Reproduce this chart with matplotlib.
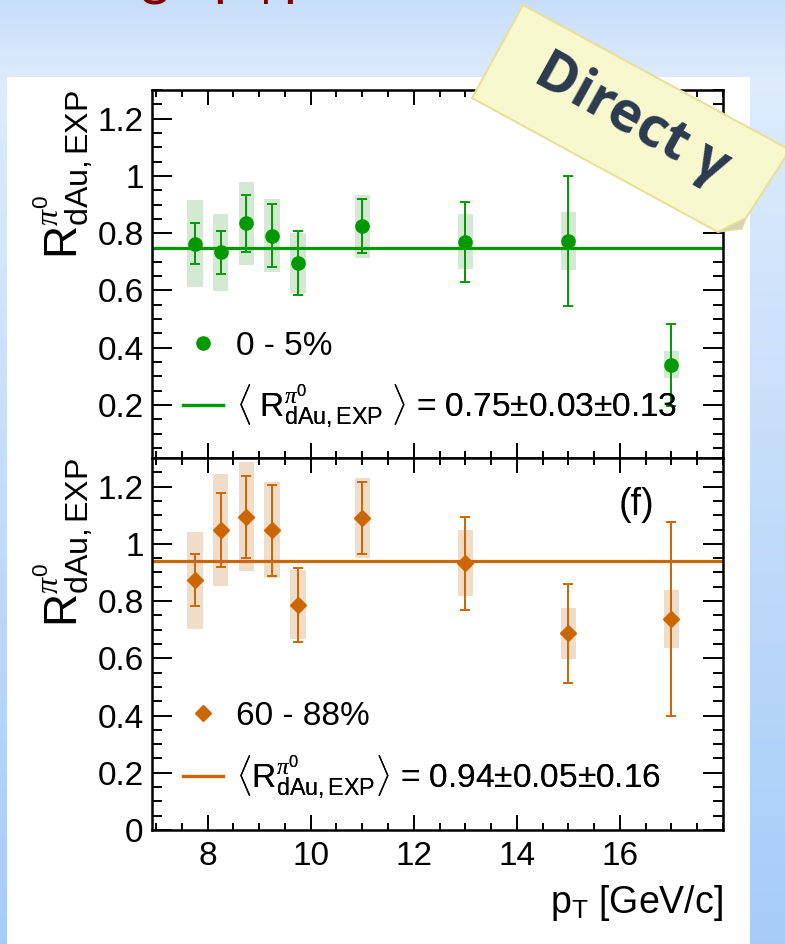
import matplotlib
matplotlib.use("Agg")
import matplotlib.pyplot as plt
import numpy as np
from matplotlib.lines import Line2D
from matplotlib.patches import Polygon, Rectangle
from matplotlib.ticker import FixedLocator, MultipleLocator, FuncFormatter

plt.rcParams["font.family"] = ["Liberation Sans", "DejaVu Sans"]
plt.rcParams["mathtext.fontset"] = "custom"
plt.rcParams["mathtext.rm"] = "Liberation Sans"
plt.rcParams["mathtext.it"] = "Liberation Serif:italic"
plt.rcParams["mathtext.bf"] = "Liberation Sans:bold"

W, H = 785, 944

pt = [7.75, 8.25, 8.75, 9.25, 9.75, 11.0, 13.0, 15.0, 17.0]
pt_ticks = [8, 10, 12, 14, 16]

# 0-5% centrality
r_central = [0.764, 0.733, 0.834, 0.791, 0.696, 0.825, 0.770, 0.773, 0.340]
stat_central = [0.073, 0.074, 0.098, 0.110, 0.112, 0.094, 0.140, 0.226, 0.143]
sys_central = [0.153, 0.135, 0.145, 0.128, 0.105, 0.110, 0.096, 0.100, 0.047]
mean_central = 0.75

# 60-88% centrality
r_periph = [0.873, 1.048, 1.095, 1.047, 0.787, 1.090, 0.932, 0.687, 0.737]
stat_periph = [0.090, 0.128, 0.143, 0.158, 0.130, 0.125, 0.163, 0.172, 0.340]
sys_periph = [0.170, 0.195, 0.190, 0.168, 0.120, 0.140, 0.115, 0.088, 0.100]
mean_periph = 0.94

GREEN, GREEN_BOX = "#009900", "#d3e9d3"
ORANGE, ORANGE_BOX = "#cc6600", "#efdcc9"

YLABEL = r"$\mathregular{R}^{\pi^{0}}_{\mathregular{dAu,EXP}}$"


def px(x, y):
    # slide pixel -> figure fraction
    return x / W, 1 - y / H


fig = plt.figure(figsize=(W / 100, H / 100), dpi=100)

# slide background: vertical blue gradient with a white panel
bg = fig.add_axes([0, 0, 1, 1], zorder=-10)
bg.axis("off")
rows = np.arange(H)
stops = [0, 80, H]
cols = np.array([[0.78, 0.87, 0.98], [0.87, 0.925, 0.99], [0.65, 0.80, 0.975]])
grad = np.stack([np.interp(rows, stops, cols[:, k]) for k in range(3)], axis=-1)
bg.imshow(grad[:, None, :], aspect="auto", extent=[0, 1, 0, 1])
fig.add_artist(Rectangle(px(7, H), 743 / W, (H - 77) / H, transform=fig.transFigure,
                         facecolor="white", edgecolor="none", zorder=-5))

# descenders of the slide title running off the top
for x, ch in [(155, "g"), (229, "p"), (266, "|"), (299, "p")]:
    fig.text(x / W, 1 + 6 / H, ch, ha="center", va="baseline", fontsize=40,
             color="#7d0000", family=["Lato", "DejaVu Sans"])

left, width = 152 / W, (723 - 152) / W
ax_top = fig.add_axes([left, (H - 458) / H, width, (458 - 90) / H])
ax_bot = fig.add_axes([left, (H - 830) / H, width, (830 - 458) / H])


def draw_panel(ax, r, stat, sys, mean, color, box_color, marker, ms):
    r, sys = np.asarray(r), np.asarray(sys)
    ax.bar(pt, 2 * sys, bottom=r - sys, width=0.3, color=box_color, zorder=1)
    ax.axhline(mean, color=color, lw=2.3, zorder=2)
    ax.errorbar(pt, r, yerr=stat, fmt=marker, color=color, ms=ms, elinewidth=1.4,
                capsize=3.5, capthick=1.4, zorder=3)


def style_axis(ax, ymin):
    ax.set_xlim(6.92, 18)
    ax.set_ylim(ymin, 1.3)
    ax.xaxis.set_major_locator(FixedLocator(pt_ticks))
    ax.xaxis.set_minor_locator(MultipleLocator(0.5))
    ax.yaxis.set_major_locator(MultipleLocator(0.2))
    ax.yaxis.set_minor_locator(MultipleLocator(0.05))
    ax.yaxis.set_major_formatter(FuncFormatter(lambda v, _: f"{v:g}"))
    ax.tick_params(which="both", direction="in", top=True, right=True, width=1.4,
                   labelsize=24)
    ax.tick_params(axis="x", which="major", length=10.8, pad=8)
    ax.tick_params(axis="x", which="minor", length=5)
    ax.tick_params(axis="y", which="major", length=14.4, pad=6)
    ax.tick_params(axis="y", which="minor", length=7.2)
    for s in ax.spines.values():
        s.set_linewidth(1.8)
    ax.set_ylabel(YLABEL, loc="top", fontsize=33, labelpad=2)


draw_panel(ax_top, r_central, stat_central, sys_central, mean_central,
           GREEN, GREEN_BOX, "o", 9.5)
draw_panel(ax_bot, r_periph, stat_periph, sys_periph, mean_periph,
           ORANGE, ORANGE_BOX, "D", 8.5)
style_axis(ax_top, 0.015)
style_axis(ax_bot, 0.0)
ax_top.tick_params(labelbottom=False)
ax_bot.set_xlabel(r"$\mathregular{p}_{\mathregular{T}}$ [GeV/c]", loc="right", fontsize=27,
                  labelpad=8)
ax_bot.text(0.848, 0.874, "(f)", transform=ax_bot.transAxes, ha="center", va="center",
            fontsize=27)


def add_entry(ax, handle, label, y):
    leg = ax.legend([handle], [label], loc="center left", bbox_to_anchor=(0.054, y),
                    frameon=False, fontsize=24, handlelength=1.2, handletextpad=0.4,
                    borderpad=0, borderaxespad=0, numpoints=1)
    ax.add_artist(leg)


add_entry(ax_top, Line2D([], [], marker="o", ls="none", color=GREEN, ms=9.5),
          "0 - 5%", 0.304)
add_entry(ax_top, Line2D([], [], color=GREEN, lw=2.3),
          r"$\langle\ \mathregular{R}^{\pi^{0}}_{\mathregular{dAu,EXP}}\ \rangle$ = 0.75±0.03±0.13",
          0.141)
add_entry(ax_bot, Line2D([], [], marker="D", ls="none", color=ORANGE, ms=8.5),
          "60 - 88%", 0.306)
add_entry(ax_bot, Line2D([], [], color=ORANGE, lw=2.3),
          r"$\langle\mathregular{R}^{\pi^{0}}_{\mathregular{dAu,EXP}}\rangle$ = 0.94±0.05±0.16",
          0.142)

# sticky note with a folded corner
note = [(523, 5), (790, 150), (746, 218), (718, 232), (472, 98)]
fig.add_artist(Polygon([px(*p) for p in note], closed=True, transform=fig.transFigure,
                       facecolor="#f8f8cf", edgecolor="#e8e09a", lw=1.5, zorder=10))
fold = [(746, 218), (718, 232), (742, 229)]
fig.add_artist(Polygon([px(*p) for p in fold], closed=True, transform=fig.transFigure,
                       facecolor="#d5d2b6", edgecolor="#e8e09a", lw=1, zorder=11))
fig.text(*px(632, 120), "Direct γ", rotation=-29, rotation_mode="anchor", ha="center",
         va="center", fontsize=40, fontweight="bold", color="#2b3b50",
         family=["Open Sans", "DejaVu Sans"], zorder=12)

fig.savefig("out.png", dpi=100)
